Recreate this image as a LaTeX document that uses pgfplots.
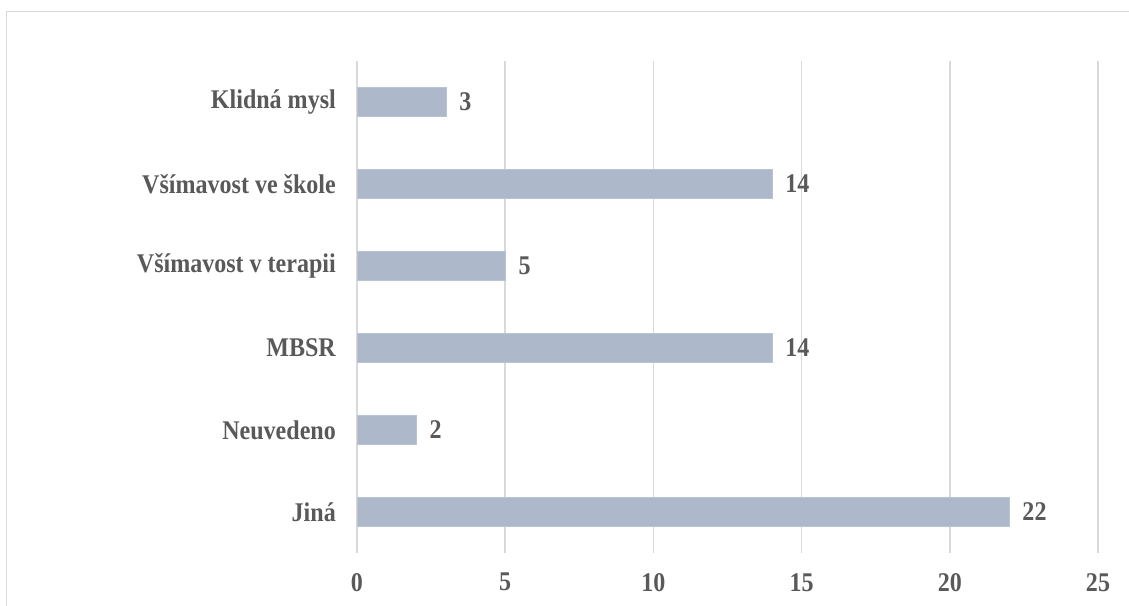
\documentclass[border=0pt]{standalone}
\usepackage{fontspec}
\setmainfont{Liberation Serif}[FakeStretch=0.89]
\usepackage{pgfplots}
\pgfplotsset{compat=1.18}
\definecolor{barc}{HTML}{ADB9CA}
\definecolor{gridc}{HTML}{D9D9D9}
\definecolor{txt}{HTML}{595959}
\begin{document}
\begin{tikzpicture}
\path[use as bounding box, fill=white] (0pt,0pt) rectangle (1129pt,605pt);
\draw[gridc, line width=1pt] (6pt,-2pt) -- (6pt,593pt) -- (1131pt,593pt);
\begin{axis}[
  at={(357pt,52pt)}, anchor=south west,
  scale only axis, width=741pt, height=492pt,
  xmin=0, xmax=25, ymin=-0.5, ymax=5.5,
  xbar, bar width=29pt,
  xtick={0,5,...,25},
  ytick={0,1,2,3,4,5},
  yticklabels={Jiná,Neuvedeno,MBSR,Všímavost v terapii,Všímavost ve škole,Klidná mysl},
  xmajorgrids=true, ymajorgrids=false,
  major grid style={gridc, line width=1.5pt},
  axis line style={draw=none},
  major tick length=0pt,
  tick style={draw=none},
  /pgf/number format/assume math mode=true,
  every tick label/.append style={font=\fontsize{27}{32}\selectfont\bfseries, text=txt, inner sep=0pt},
  yticklabel style={anchor=east, xshift=-21pt},
  xticklabel style={anchor=north, yshift=-20pt},
  nodes near coords,
  nodes near coords style={font=\fontsize{27}{32}\selectfont\bfseries, text=txt, anchor=west, inner sep=0pt, xshift=13pt},
  clip=false,
]
\addplot[fill=barc, draw=barc!85!white, line width=0.8pt] coordinates {(22,0) (2,1) (14,2) (5,3) (14,4) (3,5)};
\end{axis}
\end{tikzpicture}
\end{document}
